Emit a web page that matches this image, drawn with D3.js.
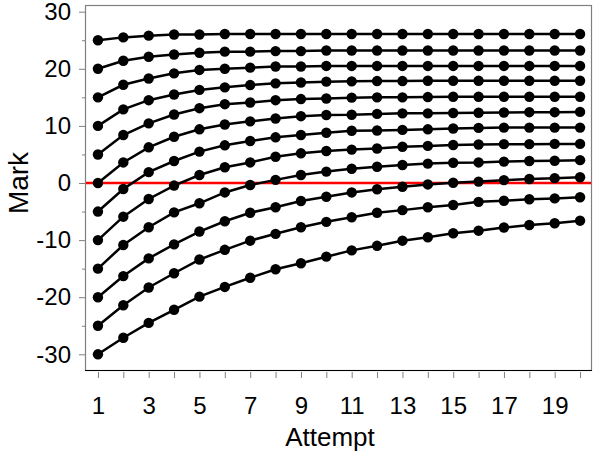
<!DOCTYPE html>
<html>
<head>
<meta charset="utf-8">
<script src="https://cdnjs.cloudflare.com/ajax/libs/d3/7.8.5/d3.min.js"></script>
<style>
  body { margin: 0; background: #ffffff; }
  svg { display: block; font-family: Arial, "Liberation Sans", sans-serif; }
</style>
</head>
<body>
<div id="chart"></div>
<script>
// attempts on the x axis, odd ones get a label
var attempts = [1, 2, 3, 4, 5, 6, 7, 8, 9, 10, 11, 12, 13, 14, 15, 16, 17, 18, 19, 20];
var xTickLabels = [1, 3, 5, 7, 9, 11, 13, 15, 17, 19];
var yTickLabels = [-30, -20, -10, 0, 10, 20, 30];
var yMinorTicks = [-25, -15, -5, 5, 15, 25];
var refLine = 0;

// one array per starting mark
var markFrom25  = [25, 25.5, 25.8, 26.0, 26.0, 26.1, 26.1, 26.1, 26.1, 26.1, 26.1, 26.1, 26.1, 26.1, 26.1, 26.1, 26.1, 26.1, 26.1, 26.1];
var markFrom20  = [20, 21.4, 22.1, 22.5, 22.8, 23.0, 23.0, 23.1, 23.1, 23.2, 23.2, 23.2, 23.2, 23.2, 23.2, 23.2, 23.2, 23.2, 23.2, 23.2];
var markFrom15  = [15, 17.2, 18.3, 19.2, 19.8, 20.0, 20.2, 20.4, 20.4, 20.5, 20.5, 20.5, 20.5, 20.5, 20.5, 20.5, 20.5, 20.5, 20.5, 20.5];
var markFrom10  = [10, 12.9, 14.5, 15.5, 16.3, 16.75, 17.15, 17.45, 17.6, 17.75, 17.8, 17.85, 17.85, 17.9, 17.9, 17.9, 17.9, 17.9, 17.9, 17.9];
var markFrom5   = [5, 8.4, 10.45, 12.0, 13.1, 13.8, 14.1, 14.5, 14.7, 14.8, 14.95, 15.0, 15.0, 15.05, 15.1, 15.1, 15.1, 15.1, 15.1, 15.1];
var markFrom0   = [0, 3.6, 6.25, 8.1, 9.4, 10.25, 10.8, 11.3, 11.7, 11.9, 11.95, 12.1, 12.2, 12.2, 12.25, 12.3, 12.35, 12.4, 12.4, 12.45];
var markFromM5  = [-5, -1.05, 1.9, 3.85, 5.5, 6.6, 7.35, 8.0, 8.4, 8.8, 9.15, 9.2, 9.3, 9.4, 9.55, 9.65, 9.7, 9.7, 9.7, 9.7];
var markFromM10 = [-10, -5.9, -2.8, -0.45, 1.4, 2.75, 3.6, 4.6, 5.2, 5.6, 5.85, 6.05, 6.35, 6.5, 6.65, 6.75, 6.8, 6.8, 6.85, 6.85];
var markFromM15 = [-15, -10.85, -7.75, -5.15, -3.55, -1.65, -0.35, 0.55, 1.4, 2.0, 2.5, 2.85, 3.15, 3.4, 3.55, 3.6, 3.75, 3.85, 3.9, 4.0];
var markFromM20 = [-20, -16.3, -13.2, -10.75, -8.5, -6.7, -5.2, -4.25, -3.15, -2.4, -1.65, -1.1, -0.65, -0.25, 0.05, 0.25, 0.5, 0.7, 0.85, 1.0];
var markFromM25 = [-25, -21.4, -18.3, -15.8, -13.4, -11.7, -10.1, -8.9, -7.75, -6.8, -6.0, -5.2, -4.75, -4.25, -3.85, -3.3, -3.1, -2.85, -2.7, -2.5];
var markFromM30 = [-30, -27.1, -24.5, -22.2, -19.9, -18.2, -16.6, -15.1, -14.05, -12.9, -11.8, -11.0, -10.1, -9.5, -8.8, -8.35, -7.8, -7.35, -7.05, -6.6];

var allSeries = [markFrom25, markFrom20, markFrom15, markFrom10, markFrom5, markFrom0,
                 markFromM5, markFromM10, markFromM15, markFromM20, markFromM25, markFromM30];

var margin = { top: 5, right: 8, bottom: 82, left: 85 },
    width = 600 - margin.left - margin.right,
    height = 453 - margin.top - margin.bottom;

var svg = d3.select('#chart')
  .append('svg')
  .attr('width', 600)
  .attr('height', 453);

var g = svg.append('g')
  .attr('transform', 'translate(' + margin.left + ',' + margin.top + ')');

var x = d3.scaleLinear().domain([0.49, 20.47]).range([0, width]);
var y = d3.scaleLinear().domain([-32.92, 31.17]).range([height, 0]);

// frame
g.append('rect')
  .attr('x', 0.5).attr('y', 0.5)
  .attr('width', width - 1).attr('height', height - 1)
  .attr('fill', 'none')
  .attr('stroke', '#808080')
  .attr('stroke-width', 1.2);

// x axis
var xAxis = g.append('g')
  .attr('transform', 'translate(0,' + (height + 1) + ')')
  .call(d3.axisBottom(x)
    .tickValues(attempts)
    .tickFormat(d => xTickLabels.indexOf(d) >= 0 ? d : '')
    .tickSize(6)
    .tickPadding(19));
xAxis.select('.domain').remove();
xAxis.selectAll('line').attr('stroke', '#808080');
xAxis.selectAll('text').attr('font-size', 24).attr('fill', '#000')
  .attr('font-family', 'Arial, "Liberation Sans", sans-serif');

g.append('line')
  .attr('x1', 0).attr('x2', width)
  .attr('y1', height - 0.5).attr('y2', height - 0.5)
  .attr('stroke', '#000')
  .attr('stroke-width', 1.2);

// y axis, major and minor (plain hyphen for negatives)
var yAxis = g.append('g')
  .call(d3.axisLeft(y)
    .tickValues(yTickLabels)
    .tickFormat(d => String(d))
    .tickSize(6)
    .tickPadding(8));
yAxis.select('.domain').remove();
yAxis.selectAll('line').attr('stroke', '#808080');
yAxis.selectAll('text').attr('font-size', 24).attr('fill', '#000')
  .attr('font-family', 'Arial, "Liberation Sans", sans-serif');

var yMinor = g.append('g')
  .call(d3.axisLeft(y)
    .tickValues(yMinorTicks)
    .tickSize(3)
    .tickFormat(''));
yMinor.select('.domain').remove();
yMinor.selectAll('line').attr('stroke', '#808080');

// red reference line at 0
g.append('line')
  .attr('x1', 1).attr('x2', width - 1)
  .attr('y1', y(refLine)).attr('y2', y(refLine))
  .attr('stroke', '#ff0000')
  .attr('stroke-width', 2.6);

var line = d3.line()
  .x((d, i) => x(attempts[i]))
  .y(d => y(d));

allSeries.forEach(function(s) {
  g.append('path')
    .datum(s)
    .attr('d', line)
    .attr('fill', 'none')
    .attr('stroke', '#000')
    .attr('stroke-width', 2.5);

  g.append('g').selectAll('circle')
    .data(s)
    .enter()
    .append('circle')
    .attr('cx', (d, i) => x(attempts[i]))
    .attr('cy', d => y(d))
    .attr('r', 5.2)
    .attr('fill', '#000');
});

// axis titles
svg.append('text')
  .attr('x', 330)
  .attr('y', 446)
  .attr('text-anchor', 'middle')
  .attr('font-size', 26)
  .text('Attempt');

svg.append('text')
  .attr('transform', 'translate(28,183) rotate(-90)')
  .attr('text-anchor', 'middle')
  .attr('font-size', 28)
  .text('Mark');
</script>
</body>
</html>
